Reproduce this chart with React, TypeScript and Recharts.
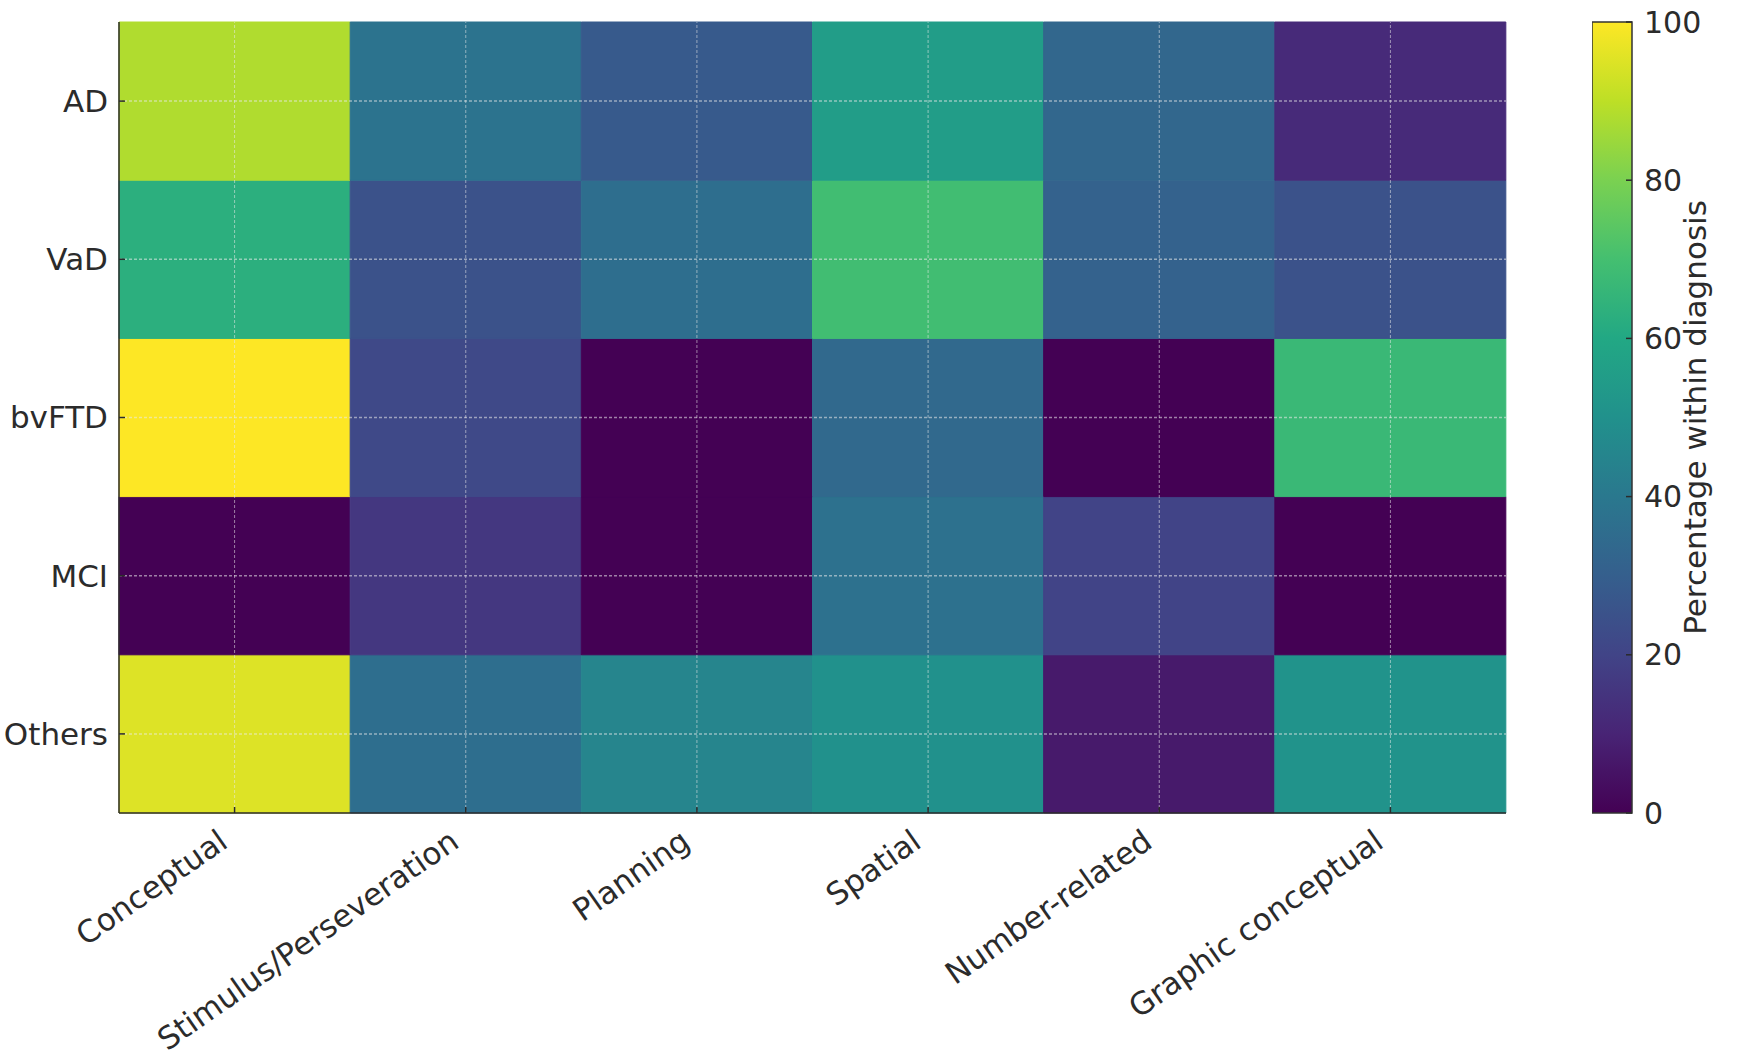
import { Bar, BarChart, Cell, ReferenceLine, XAxis, YAxis } from 'recharts'

const categories = [
  'Conceptual',
  'Stimulus/Perseveration',
  'Planning',
  'Spatial',
  'Number-related',
  'Graphic conceptual',
]
const diagnoses = ['AD', 'VaD', 'bvFTD', 'MCI', 'Others']

// percentage within diagnosis, one value per category
const AD = [88, 38, 28, 55, 33, 12]
const VaD = [63, 25, 36, 69, 31, 25]
const bvFTD = [100, 22, 0, 34, 0, 67]
const MCI = [0, 16, 0, 37, 20, 0]
const Others = [95, 36, 45, 50, 7, 51]

const colorbarTicks = [0, 20, 40, 60, 80, 100]

const rows: Record<string, number[]> = { AD, VaD, bvFTD, MCI, Others }

const VIRIDIS = [
  '#440154', '#482475', '#414487', '#355f8d', '#2a788e', '#21918c',
  '#22a884', '#44bf70', '#7ad151', '#bddf26', '#fde725',
]

function hexToRgb(h: string) {
  const n = parseInt(h.slice(1), 16)
  return [(n >> 16) & 255, (n >> 8) & 255, n & 255]
}

function viridis(pct: number) {
  const t = Math.max(0, Math.min(1, pct / 100)) * (VIRIDIS.length - 1)
  const i = Math.min(Math.floor(t), VIRIDIS.length - 2)
  const f = t - i
  const a = hexToRgb(VIRIDIS[i])
  const b = hexToRgb(VIRIDIS[i + 1])
  const c = a.map((v, k) => Math.round(v + (b[k] - v) * f))
  return `rgb(${c[0]},${c[1]},${c[2]})`
}

// every cell is one unit tall, stacked bottom-up so AD ends on top
const tableData = categories.map((name) => {
  const row: Record<string, string | number> = { name }
  diagnoses.forEach((d) => (row[d] = 1))
  return row
})
const stackOrder = [...diagnoses].reverse()
const rowTicks = diagnoses.map((_, i) => diagnoses.length - i - 0.5)

const FONT = 'DejaVu Sans'
const INK = '#2b2b2b'
const GRID = 'rgba(235,235,235,0.55)'

function RowTick({ x, y, payload }: any) {
  const label = diagnoses[diagnoses.length - 1 - Math.floor(payload.value)]
  return (
    <g>
      <line x1={x} x2={x + 6} y1={y} y2={y} stroke={INK} strokeWidth={1.5} />
      <text x={x - 11} y={y} dy='0.35em' textAnchor='end' fontSize={31} fontFamily={FONT} fill={INK}>
        {label}
      </text>
    </g>
  )
}

function CategoryTick({ x, y, payload }: any) {
  const tx = x - 5
  const ty = y + 33
  return (
    <g>
      <line x1={x} x2={x} y1={y} y2={y - 6} stroke={INK} strokeWidth={1.5} />
      <text
        x={tx}
        y={ty}
        textAnchor='end'
        fontSize={31}
        fontFamily={FONT}
        fill={INK}
        transform={`rotate(-35, ${tx}, ${ty})`}
      >
        {payload.value}
      </text>
    </g>
  )
}

function ColorbarTick({ x, y, payload }: any) {
  return (
    <g>
      <line x1={x - 6} x2={x} y1={y} y2={y} stroke={INK} strokeWidth={1.5} />
      <text x={x + 12} y={y} dy='0.35em' textAnchor='start' fontSize={30} fontFamily={FONT} fill={INK}>
        {payload.value}
      </text>
    </g>
  )
}

function ColorbarLabel({ viewBox }: any) {
  const cx = viewBox.x + 63
  const cy = viewBox.y + viewBox.height / 2
  return (
    <text
      x={cx}
      y={cy}
      dy='0.35em'
      textAnchor='middle'
      fontSize={31}
      fontFamily={FONT}
      fill={INK}
      transform={`rotate(-90, ${cx}, ${cy})`}
    >
      Percentage within diagnosis
    </text>
  )
}

export default function App() {
  return (
    <div style={{ position: 'absolute', left: 0, top: 0, width: 1749, height: 1059, background: '#fff' }}>
      <svg width={0} height={0} style={{ position: 'absolute' }}>
        <defs>
          <linearGradient id='viridisBar' x1='0' y1='1' x2='0' y2='0'>
            {VIRIDIS.map((c, i) => (
              <stop key={c} offset={i / (VIRIDIS.length - 1)} stopColor={c} />
            ))}
          </linearGradient>
        </defs>
      </svg>

      <div style={{ position: 'absolute', left: 0, top: 0 }}>
        <BarChart
          width={1749}
          height={1059}
          data={tableData}
          barCategoryGap={0}
          margin={{ top: 22, right: 243, bottom: 0, left: 0 }}
        >
          <XAxis
            dataKey='name'
            height={246}
            tickSize={0}
            tickMargin={0}
            interval={0}
            axisLine={{ stroke: INK, strokeWidth: 1.5 }}
            tick={<CategoryTick />}
          />
          <XAxis xAxisId='top' dataKey='name' orientation='top' height={0} tick={false} tickLine={false} axisLine={{ stroke: '#c8d0d8', strokeWidth: 1 }} />
          <YAxis
            type='number'
            domain={[0, diagnoses.length]}
            ticks={rowTicks}
            width={119}
            tickSize={0}
            tickMargin={0}
            interval={0}
            axisLine={{ stroke: INK, strokeWidth: 1.5 }}
            tick={<RowTick />}
          />
          <YAxis yAxisId='right' orientation='right' width={0} tick={false} tickLine={false} axisLine={{ stroke: '#d8dde2', strokeWidth: 1 }} />
          {stackOrder.map((d) => (
            <Bar key={d} dataKey={d} stackId='cells' isAnimationActive={false}>
              {categories.map((c, i) => {
                const fill = viridis(rows[d][i])
                return <Cell key={c} fill={fill} stroke={fill} strokeWidth={1} />
              })}
            </Bar>
          ))}
          {categories.map((c) => (
            <ReferenceLine key={c} x={c} stroke={GRID} strokeWidth={1} strokeDasharray='3 2' />
          ))}
          {rowTicks.map((t) => (
            <ReferenceLine key={t} y={t} stroke={GRID} strokeWidth={1.5} strokeDasharray='3 2' />
          ))}
        </BarChart>
      </div>

      <div style={{ position: 'absolute', left: 1592, top: 0 }}>
        <BarChart
          width={157}
          height={1059}
          data={[{ name: 'scale', value: 100 }]}
          barCategoryGap={0}
          margin={{ top: 22, right: 0, bottom: 246, left: 0 }}
        >
          <XAxis dataKey='name' hide />
          <YAxis
            orientation='right'
            type='number'
            domain={[0, 100]}
            ticks={colorbarTicks}
            width={117}
            tickSize={0}
            tickMargin={0}
            axisLine={false}
            tick={<ColorbarTick />}
            label={<ColorbarLabel />}
          />
          <Bar dataKey='value' fill='url(#viridisBar)' stroke='#333' strokeWidth={1.5} isAnimationActive={false} />
        </BarChart>
      </div>
    </div>
  )
}
